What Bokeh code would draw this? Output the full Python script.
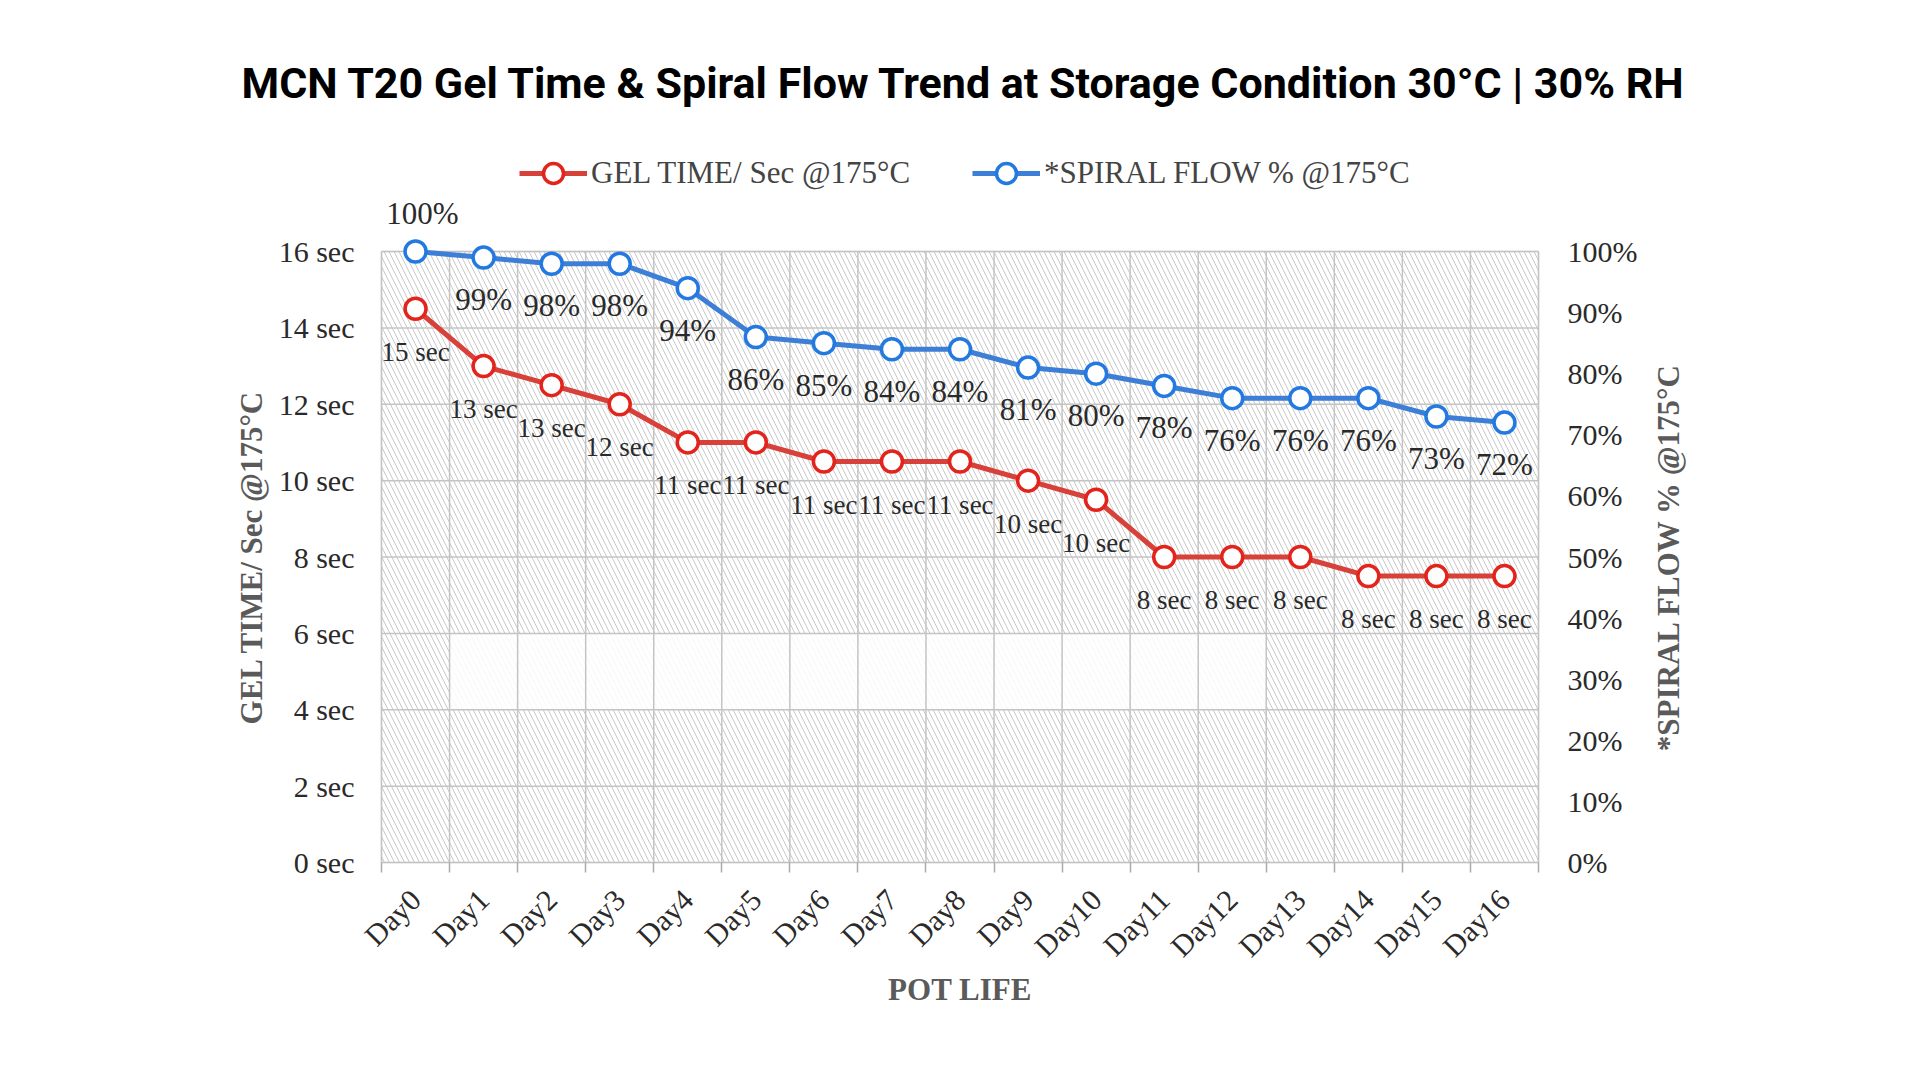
from math import pi
from bokeh.plotting import figure
from bokeh.models import (Range1d, LinearAxis, FixedTicker, PrintfTickFormatter,
                          ColumnDataSource, LabelSet, Label, Legend, LegendItem,
                          BoxAnnotation, Title)
from bokeh.core.properties import value
from bokeh.embed import file_html
from bokeh.resources import INLINE

# ---------------- data ----------------
days = ["Day0", "Day1", "Day2", "Day3", "Day4", "Day5", "Day6", "Day7", "Day8",
        "Day9", "Day10", "Day11", "Day12", "Day13", "Day14", "Day15", "Day16"]
gel_time = [14.5, 13, 12.5, 12, 11, 11, 10.5, 10.5, 10.5, 10, 9.5, 8, 8, 8, 7.5, 7.5, 7.5]
gel_labels = ["15 sec", "13 sec", "13 sec", "12 sec", "11 sec", "11 sec", "11 sec",
              "11 sec", "11 sec", "10 sec", "10 sec", "8 sec", "8 sec", "8 sec",
              "8 sec", "8 sec", "8 sec"]
spiral_flow = [100, 99, 98, 98, 94, 86, 85, 84, 84, 81, 80, 78, 76, 76, 76, 73, 72]
spiral_labels = ["100%", "99%", "98%", "98%", "94%", "86%", "85%", "84%", "84%",
                 "81%", "80%", "78%", "76%", "76%", "76%", "73%", "72%"]
gel_ticks = [0, 2, 4, 6, 8, 10, 12, 14, 16]
flow_ticks = [0, 10, 20, 30, 40, 50, 60, 70, 80, 90, 100]

title_text = "MCN T20 Gel Time & Spiral Flow Trend at Storage Condition 30°C | 30% RH"
gel_name = "GEL TIME/ Sec @175°C"
flow_name = "*SPIRAL FLOW % @175°C"
x_name = "POT LIFE"

# ---------------- styles / layout (pixels) ----------------
SERIF = "Liberation Serif"
RED_LINE = "#d8403a"
RED_MARK = "#e2241c"
BLUE_LINE = "#3d7fd6"
BLUE_MARK = "#2479e0"
GRID = "#c4c4c4"
TXT = "#2a2a2a"
TITLE_GRAY = "#5a5a5a"

W, H = 1900, 1060
FRAME_LEFT = 0        # drawing frame reaches the left edge
FRAME_TOP = 115       # page y of the drawing frame top (title sits above it)
FRAME_RIGHT = W       # drawing frame reaches the right edge
FRAME_BOTTOM = H      # drawing frame reaches the bottom edge
PLOT_TOP = 251        # page y of the 16 sec / 100% line
PLOT_BOTTOM = 862     # page y of the 0 line
PLOT_LEFT = 381
PLOT_RIGHT = 1538

n = len(days)
xs = list(range(n))
bounds = [i - 0.5 for i in range(n + 1)]

px_per_gel = (PLOT_BOTTOM - PLOT_TOP) / (gel_ticks[-1] - gel_ticks[0])
y_start = gel_ticks[0] - (FRAME_BOTTOM - PLOT_BOTTOM) / px_per_gel
y_end = gel_ticks[-1] + (PLOT_TOP - FRAME_TOP) / px_per_gel
pct_per_gel = (flow_ticks[-1] - flow_ticks[0]) / (gel_ticks[-1] - gel_ticks[0])
px_per_cat = (PLOT_RIGHT - PLOT_LEFT) / n
x_start = bounds[0] - (PLOT_LEFT - FRAME_LEFT) / px_per_cat
x_end = bounds[0] + (FRAME_RIGHT - PLOT_LEFT) / px_per_cat

p = figure(width=W, height=H, output_backend="svg", toolbar_location=None,
           x_range=Range1d(x_start, x_end), y_range=Range1d(y_start, y_end),
           min_border_left=FRAME_LEFT, min_border_right=W - FRAME_RIGHT,
           min_border_top=FRAME_TOP, min_border_bottom=H - FRAME_BOTTOM,
           x_axis_location=None, y_axis_location=None)
p.extra_y_ranges = {"pct": Range1d(y_start * pct_per_gel, y_end * pct_per_gel)}
p.background_fill_color = "white"
p.border_fill_color = "white"
p.outline_line_color = None
p.grid.visible = False

p.title = Title(text=title_text, align="left", offset=241 - FRAME_LEFT, standoff=16,
                text_font="Roboto", text_font_style="bold", text_font_size="43px",
                text_color="black")

# hatch background of the plot area
p.add_layout(BoxAnnotation(left=bounds[0], right=bounds[-1], bottom=gel_ticks[0],
                           top=gel_ticks[-1], fill_alpha=0, line_color=None,
                           hatch_pattern="\\", hatch_color="#c8c8c8", hatch_scale=10,
                           hatch_weight=1, level="image"))
p.add_layout(BoxAnnotation(bottom=4, top=6, left=0.5, right=12.5, fill_color="white",
                           fill_alpha=0.85, line_color=None, level="image"))

# grid lines and plot-area outline
p.segment(x0=[bounds[0]] * len(gel_ticks), y0=gel_ticks, x1=[bounds[-1]] * len(gel_ticks),
          y1=gel_ticks, line_color=GRID, line_width=1.5, level="underlay")
p.segment(x0=bounds, y0=[gel_ticks[0]] * len(bounds), x1=bounds,
          y1=[gel_ticks[-1]] * len(bounds), line_color=GRID, line_width=1.5, level="underlay")
p.add_layout(BoxAnnotation(left=bounds[0], right=bounds[-1], bottom=gel_ticks[0],
                           top=gel_ticks[-1], fill_alpha=0, line_color="#bdbdbd",
                           line_width=1.5, level="underlay"))

# bottom axis, pinned to the 0 line
xaxis = LinearAxis(fixed_location=gel_ticks[0],
                   ticker=FixedTicker(ticks=xs, minor_ticks=bounds))
xaxis.major_label_overrides = {i: d for i, d in enumerate(days)}
xaxis.major_label_orientation = pi / 4
xaxis.major_tick_line_color = None
xaxis.major_tick_out = 10
xaxis.minor_tick_line_color = "#aaaaaa"
xaxis.minor_tick_line_width = 1.5
xaxis.minor_tick_out = 10
xaxis.minor_tick_in = 0
xaxis.axis_line_color = None
xaxis.major_label_standoff = 22
xaxis.major_label_text_font = SERIF
xaxis.major_label_text_font_size = "30px"
xaxis.major_label_text_color = TXT
p.add_layout(xaxis, "below")
p.add_layout(Label(x=(bounds[0] + bounds[-1]) / 2, y=gel_ticks[0], y_offset=-127,
                   text=x_name, text_align="center", text_baseline="middle",
                   text_font=SERIF, text_font_style="bold", text_font_size="31px",
                   text_color=TITLE_GRAY))

# left axis, pinned to the left edge of the plot area
yaxis = LinearAxis(fixed_location=bounds[0],
                   ticker=FixedTicker(ticks=gel_ticks, minor_ticks=[]),
                   formatter=PrintfTickFormatter(format="%d sec"))
yaxis.axis_line_color = None
yaxis.major_tick_line_color = None
yaxis.major_tick_out = 0
yaxis.minor_tick_line_color = None
yaxis.major_label_standoff = 27
yaxis.major_label_text_font = SERIF
yaxis.major_label_text_font_size = "30px"
yaxis.major_label_text_color = TXT
p.add_layout(yaxis, "left")
p.add_layout(Label(x=bounds[0], y=(gel_ticks[0] + gel_ticks[-1]) / 2, x_offset=-130,
                   angle=pi / 2, text=gel_name, text_align="center",
                   text_baseline="middle", text_font=SERIF, text_font_style="bold",
                   text_font_size="31px", text_color=TITLE_GRAY))

# right (percentage) axis, pinned to the right edge of the plot area
raxis = LinearAxis(y_range_name="pct", fixed_location=bounds[-1],
                   ticker=FixedTicker(ticks=flow_ticks, minor_ticks=[]),
                   formatter=PrintfTickFormatter(format="%d%%"))
raxis.axis_line_color = None
raxis.major_tick_line_color = None
raxis.major_tick_out = 0
raxis.minor_tick_line_color = None
raxis.major_label_standoff = 29
raxis.major_label_text_font = SERIF
raxis.major_label_text_font_size = "30px"
raxis.major_label_text_color = TXT
p.add_layout(raxis, "right")
p.add_layout(Label(x=bounds[-1], y=flow_ticks[-1] / 2, y_range_name="pct", x_offset=130,
                   angle=pi / 2, text=flow_name, text_align="center",
                   text_baseline="middle", text_font=SERIF, text_font_style="bold",
                   text_font_size="31px", text_color=TITLE_GRAY))

src = ColumnDataSource(dict(
    x=xs, gel=gel_time, gel_lab=gel_labels, flow=spiral_flow, flow_lab=spiral_labels,
    flow_dx=[7 if i == 0 else 0 for i in range(n)],
    flow_dy=[38 if i == 0 else -42 for i in range(n)],
))

r_line = p.line("x", "gel", source=src, line_color=RED_LINE, line_width=5)
r_mark = p.scatter("x", "gel", source=src, size=21, marker="circle", fill_color="white",
                   line_color=RED_MARK, line_width=3.5)
b_line = p.line("x", "flow", source=src, y_range_name="pct", line_color=BLUE_LINE,
                line_width=5)
b_mark = p.scatter("x", "flow", source=src, y_range_name="pct", size=21, marker="circle",
                   fill_color="white", line_color=BLUE_MARK, line_width=3.5)

p.add_layout(LabelSet(x="x", y="gel", text="gel_lab", source=src, y_offset=-43,
                      text_align="center", text_baseline="middle",
                      text_font=value(SERIF), text_font_size="27px", text_color=TXT))
p.add_layout(LabelSet(x="x", y="flow", text="flow_lab", source=src, y_range_name="pct",
                      x_offset="flow_dx", y_offset="flow_dy", text_align="center",
                      text_baseline="middle", text_font=value(SERIF),
                      text_font_size="31px", text_color=TXT))

legend = Legend(items=[LegendItem(label=gel_name, renderers=[r_line, r_mark]),
                       LegendItem(label=flow_name, renderers=[b_line, b_mark])],
                location=(519 - FRAME_LEFT, FRAME_BOTTOM - 198), orientation="horizontal",
                label_text_font=SERIF, label_text_font_size="31px",
                label_text_color="#444444", glyph_width=68, glyph_height=50,
                spacing=62, border_line_color=None, background_fill_alpha=0,
                margin=0, padding=0, label_standoff=4)
p.add_layout(legend)

html = file_html(p, INLINE)
open("out.html", "w").write(html)
